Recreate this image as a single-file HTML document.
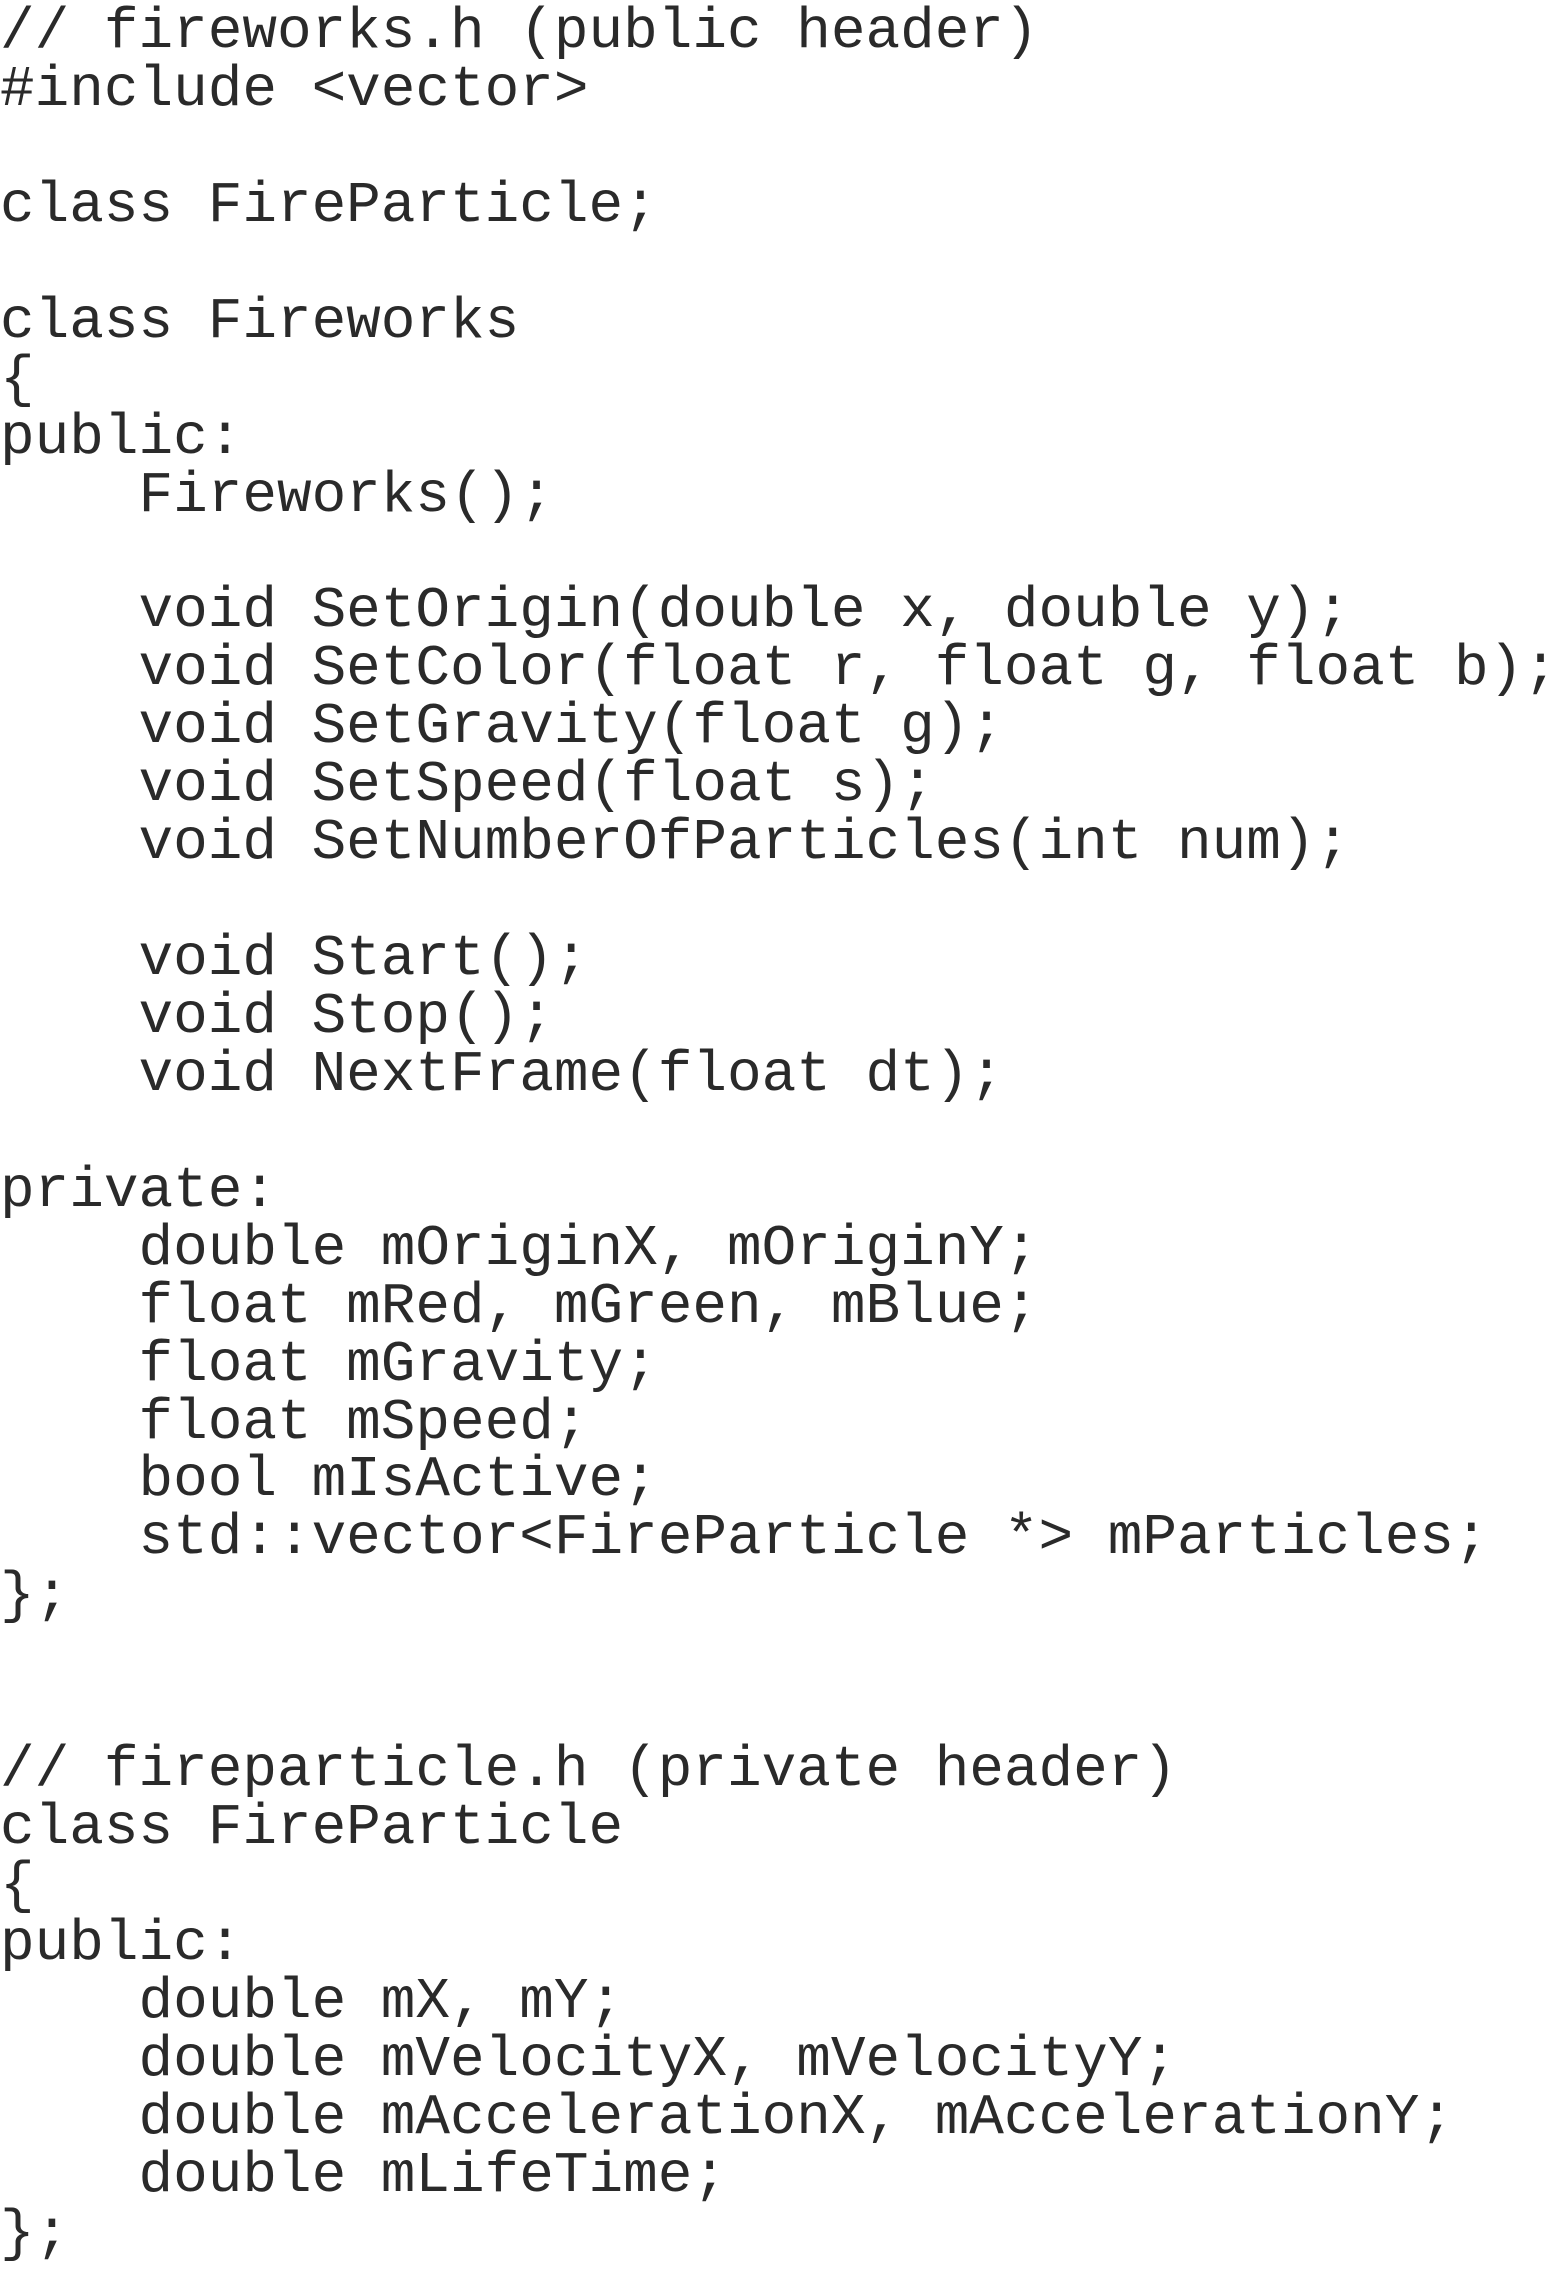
<!DOCTYPE html>
<html><head><meta charset="utf-8">
<style>
html,body{margin:0;padding:0;background:#fff;width:1559px;height:2281px;overflow:hidden}
pre{margin:0;padding:0;position:absolute;left:0;top:4px;font-family:"Liberation Mono","DejaVu Sans Mono",monospace;font-size:57.7px;line-height:57.93px;color:#2a2a2a;white-space:pre}
</style></head><body>
<pre>// fireworks.h (public header)
#include &lt;vector&gt;

class FireParticle;

class Fireworks
{
public:
    Fireworks();

    void SetOrigin(double x, double y);
    void SetColor(float r, float g, float b);
    void SetGravity(float g);
    void SetSpeed(float s);
    void SetNumberOfParticles(int num);

    void Start();
    void Stop();
    void NextFrame(float dt);

private:
    double mOriginX, mOriginY;
    float mRed, mGreen, mBlue;
    float mGravity;
    float mSpeed;
    bool mIsActive;
    std::vector&lt;FireParticle *&gt; mParticles;
};


// fireparticle.h (private header)
class FireParticle
{
public:
    double mX, mY;
    double mVelocityX, mVelocityY;
    double mAccelerationX, mAccelerationY;
    double mLifeTime;
};</pre>
</body></html>
